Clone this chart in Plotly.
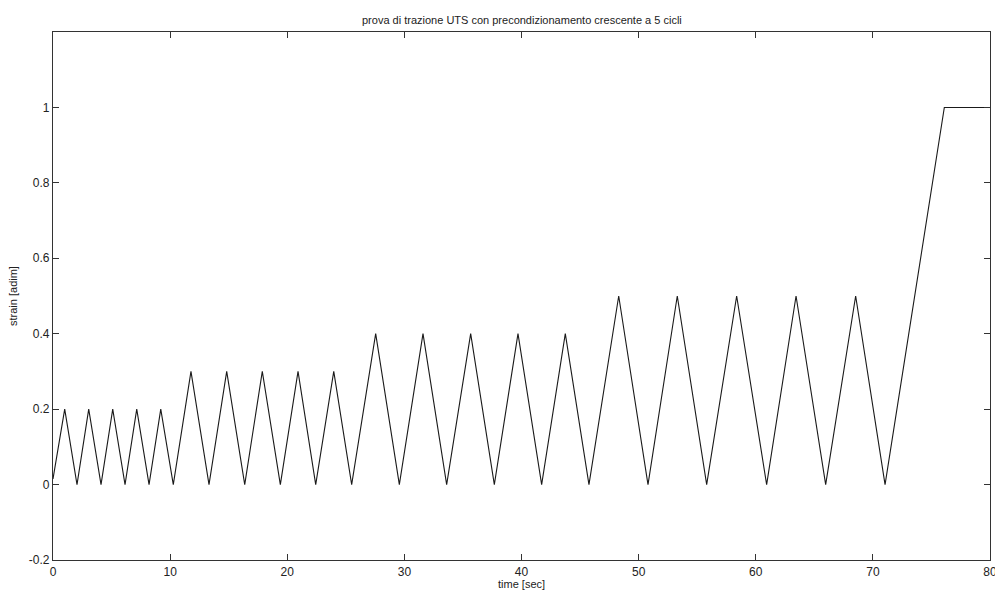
import plotly.graph_objects as go

# vertex times (s) and strain values
time_s = [0.0, 1.0, 2.05, 3.05, 4.1, 5.1, 6.15, 7.15, 8.2, 9.2, 10.27,
          11.78, 13.32, 14.83, 16.37, 17.87, 19.41, 20.92, 22.43, 23.97, 25.5,
          27.55, 29.57, 31.59, 33.61, 35.66, 37.68, 39.7, 41.72, 43.74, 45.76,
          48.3, 50.8, 53.3, 55.81, 58.37, 60.93, 63.44, 65.97, 68.53, 71.04,
          76.1, 80.0]
strain = [0.015, 0.2, 0.0, 0.2, 0.0, 0.2, 0.0, 0.2, 0.0, 0.2, 0.0,
          0.3, 0.0, 0.3, 0.0, 0.3, 0.0, 0.3, 0.0, 0.3, 0.0,
          0.4, 0.0, 0.4, 0.0, 0.4, 0.0, 0.4, 0.0, 0.4, 0.0,
          0.5, 0.0, 0.5, 0.0, 0.5, 0.0, 0.5, 0.0, 0.5, 0.0,
          1.0, 1.0]

x_ticks = [0, 10, 20, 30, 40, 50, 60, 70, 80]
y_ticks = [-0.2, 0, 0.2, 0.4, 0.6, 0.8, 1]
y_tick_text = ["-0.2", "0", "0.2", "0.4", "0.6", "0.8", "1"]

title_text = "prova di trazione UTS con precondizionamento crescente a 5 cicli"
x_title = "time [sec]"
y_title = "strain [adim]"

FONT = "Liberation Sans, Arial, sans-serif"

fig = go.Figure()
fig.add_trace(go.Scatter(x=time_s, y=strain, mode="lines",
                         line=dict(color="#1a1a1a", width=1.1),
                         showlegend=False, hoverinfo="skip"))

axis_common = dict(showgrid=False, zeroline=False, showline=True,
                   linecolor="#333333", linewidth=1.2, mirror="ticks",
                   ticks="inside", ticklen=6, tickcolor="#333333",
                   tickwidth=1, ticklabeloverflow="allow", automargin=False,
                   tickfont=dict(family=FONT, size=12, color="#222222"))

fig.update_layout(
    width=995, height=594,
    margin=dict(l=53, r=5, t=32, b=34, autoexpand=False),
    paper_bgcolor="white", plot_bgcolor="white",
    xaxis=dict(range=[0, 80], tickvals=x_ticks, **axis_common),
    yaxis=dict(range=[-0.2, 1.2], tickvals=y_ticks, ticktext=y_tick_text,
               **axis_common),
    annotations=[
        dict(text=title_text, x=0.5, xref="paper", y=1, yref="paper",
             yshift=20, showarrow=False,
             font=dict(family=FONT, size=11, color="#222222")),
        dict(text=x_title, x=0.5, xref="paper", y=0, yref="paper",
             yshift=-24, yanchor="middle", showarrow=False,
             font=dict(family=FONT, size=11, color="#222222")),
        dict(text=y_title, x=0, xref="paper", y=0.5, yref="paper",
             xshift=-40, xanchor="center", yanchor="middle", textangle=-90,
             showarrow=False,
             font=dict(family=FONT, size=11, color="#222222")),
    ],
)

fig.write_html("out.html")
